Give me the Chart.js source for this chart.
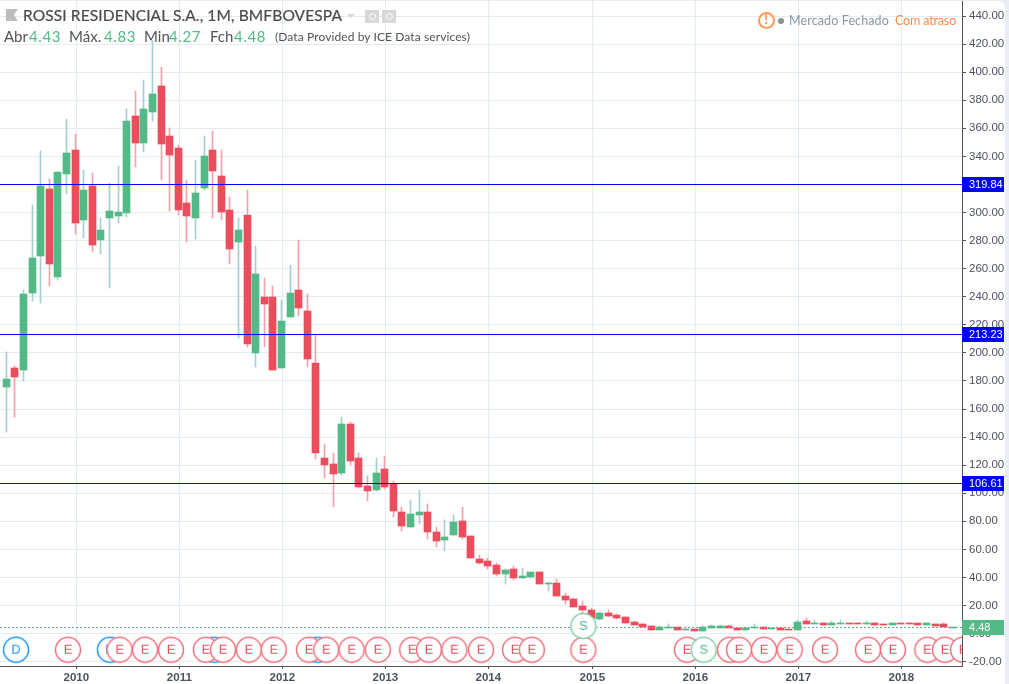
<!DOCTYPE html>
<html>
<head>
<meta charset="utf-8">
<title>ROSSI RESIDENCIAL S.A.</title>
<script src="https://cdn.jsdelivr.net/npm/chart.js@4/dist/chart.umd.min.js"></script>
<style>
  html, body { margin: 0; padding: 0; background: #e9ecf1; overflow: hidden; }
  #panel { position: absolute; left: 0; top: 1px; width: 1005px; height: 683px; background: #fff; border-top-right-radius: 6px; overflow: hidden; }
  #chart { position: absolute; left: 0; top: 0; }
  .txt { position: absolute; white-space: nowrap; font-family: Lato, sans-serif; }
  .title { font-size: 15.5px; color: #4a4a4a; letter-spacing: 0.12px; -webkit-text-stroke: 0.2px #4a4a4a; }
  .leg { font-size: 15px; color: #535353; top: 26px; }
  .val { font-size: 15px; color: #53b987; top: 26px; letter-spacing: 0.6px; }
  .note { font-size: 12px; color: #535353; letter-spacing: 0.1px; top: 28px; }
  .status { font-size: 12.5px; letter-spacing: 0.12px; top: 12px; }
  .ico { position: absolute; background: #d6d8da; }
  .hole { position: absolute; width: 5px; height: 5px; border: 1px solid #fff; border-radius: 50%; }
</style>
</head>
<body>
<div id="panel">
  <canvas id="chart" width="1005" height="683"></canvas>

  <div class="ico" style="left:6px;top:8px;width:12px;height:12px;clip-path:polygon(0 0,100% 0,65% 50%,100% 100%,0 100%);background:#bdbdbd"></div>
  <div class="txt title" style="left:23px;top:5px">ROSSI RESIDENCIAL S.A., 1M, BMFBOVESPA</div>
  <div class="ico" style="left:347px;top:13px;width:8px;height:4px;clip-path:polygon(0 0,100% 0,50% 100%)"></div>
  <div class="ico" style="left:365px;top:9px;width:14px;height:13px"><div class="hole" style="left:3.5px;top:3px"></div></div>
  <div class="ico" style="left:382px;top:9px;width:14px;height:13px"><div class="hole" style="left:3.5px;top:3px"></div></div>

  <div class="txt leg" style="left:4px">Abr</div><div class="txt val" style="left:29px">4.43</div>
  <div class="txt leg" style="left:69px">Máx.</div><div class="txt val" style="left:104px">4.83</div>
  <div class="txt leg" style="left:144px">Min</div><div class="txt val" style="left:169px">4.27</div>
  <div class="txt leg" style="left:210px">Fch</div><div class="txt val" style="left:234px">4.48</div>
  <div class="txt note" style="left:275px">(Data Provided by ICE Data services)</div>

  <div style="position:absolute;left:757.5px;top:10.5px;width:13px;height:13px;border:2px solid #ff9a5c;border-radius:50%"></div>
  <div class="txt" style="left:757.5px;top:10px;width:17px;text-align:center;font-size:13px;line-height:17px;color:#ff8a4c;font-weight:700">!</div>
  <div style="position:absolute;left:778px;top:17px;width:6px;height:6px;background:#8a8f96;border-radius:50%"></div>
  <div class="txt status" style="left:789px;color:#8b97a1">Mercado Fechado</div>
  <div class="txt status" style="left:895px;color:#ff8a4c;letter-spacing:-0.15px">Com atraso</div>
</div>

<script>
const yearLabels = ['2010', '2011', '2012', '2013', '2014', '2015', '2016', '2017', '2018'];
const yearMonthIndex = [8.14, 20.12, 32.09, 44.07, 56.05, 68.14, 80.12, 92.09, 104.07];
const priceTicks = [440, 420, 400, 380, 360, 340, 320, 300, 280, 260, 240, 220, 200, 180, 160, 140, 120, 100, 80, 60, 40, 20, 0, -20];

// monthly candles, May 2009 to Jul 2018
const opens = [
  175.7, 189.5, 187.8, 242.7, 269, 316.8, 254, 327.5, 344.6, 294.7, 318.9, 280.4, 296.1, 297.5, 299.7, 368.8,
  349.5, 371.6, 390.1, 354.5, 346, 306.8, 296, 317.4, 344.5, 326, 301.8, 279, 298.2, 199.9, 239.8, 239.8,
  189.2, 225.5, 244.8, 229.8, 192.8, 125.1, 120.8, 114.4, 149.3, 125.1, 105.1, 102.3, 117.3, 106.6, 86.6, 75.9,
  84.5, 86.6, 72.4, 66.7, 70.2, 80.2, 69.5, 53.1, 51.7, 48.9, 42.4, 46, 39.6, 40.3, 43.9, 35.3,
  36, 26.8, 24.6, 19.6, 16.8, 10.4, 14.7, 13.2, 11.8, 8.3, 6.8, 5.4, 2.6, 4, 4.7, 2.6,
  3.3, 1.85, 4, 4, 5.4, 4, 2.6, 4, 4.7, 3.3, 4, 3.3, 2.6, 9, 6.8, 7.5,
  6.1, 6.8, 7.5, 7.5, 6.8, 7.5, 6.8, 6.1, 7.5, 7.5, 7.5, 6.1, 6.8, 6.8, 4.43
];
const closes = [
  181.4, 182.8, 241.9, 267.6, 318.9, 263.3, 328.9, 342.4, 292.5, 316, 276.9, 287.6, 301.1, 300.4, 365.2, 349.5,
  373.8, 384.4, 348.8, 341, 301.8, 297.5, 313.9, 340.2, 329.6, 300.3, 274, 287.5, 206.3, 256.2, 234.8, 187.8,
  222.7, 242.6, 232, 195.6, 128.6, 120.1, 113.7, 149.3, 122.9, 104.4, 101.6, 114.4, 104.4, 87.3, 76.6, 85.2,
  86.6, 72.4, 65.9, 68.8, 79.5, 68.8, 53.9, 50.3, 48.1, 42.4, 45.3, 39.6, 41, 43.9, 35.3, 36,
  26.8, 23.9, 18.9, 16.8, 11.1, 14.7, 12.5, 11.1, 7.5, 6.1, 4.7, 2.6, 4.7, 4.7, 2.6, 3.3,
  1.85, 4.7, 5.4, 5.4, 4, 2.6, 4, 4.7, 3.3, 4, 2.6, 2.6, 8.3, 6.8, 7.5, 6.1,
  7.5, 7.5, 6.8, 6.8, 7.5, 6.1, 6.1, 7.5, 6.8, 6.8, 6.1, 7.5, 5.4, 4.7, 4.48
];
const highs = [
  200.6, 190.6, 244.8, 305.4, 343.8, 323.9, 328.9, 366.6, 356, 330.3, 328.2, 296.1, 321, 333.2, 373.8, 386.6,
  394.4, 422, 403.7, 360.2, 348.1, 323.2, 337.4, 354.5, 358.1, 344.5, 311, 296, 316, 276.1, 253.3, 247.6,
  237.7, 262.6, 280.4, 241.9, 213.4, 135, 128.7, 154.3, 150.7, 128.7, 112.3, 125.1, 126.5, 108.7, 90.2, 95.2,
  102.3, 92.3, 75.9, 80.9, 84.5, 90.2, 69.5, 56, 53.9, 50.3, 46, 48.1, 46.7, 43.9, 43.9, 36.7,
  38.9, 28.9, 25.3, 23.2, 18.2, 15.4, 16.8, 13.9, 12.1, 9, 7, 5.6, 5.4, 6.8, 5, 3.6,
  3.6, 5.4, 5.8, 6, 5.8, 4.3, 4.3, 6.8, 5, 4.3, 4.3, 3.6, 9.7, 11.1, 9.7, 7.8,
  9, 9.7, 7.8, 7.8, 9, 7.8, 7, 7.8, 7.8, 7.8, 7.5, 7.8, 7, 7.2, 4.83
];
const lows = [
  143.6, 154.3, 180, 237, 235.5, 247.6, 251.9, 313.2, 284.7, 281.9, 271.9, 270.4, 246.2, 292.5, 296.8, 332.4,
  343.1, 365.2, 323.2, 301.1, 298.2, 279, 281.1, 316, 296.1, 294.7, 263.3, 210.6, 204.2, 189.9, 204.2, 187.8,
  189.2, 225.5, 226.2, 189.9, 124.4, 110.8, 90.2, 113, 120.1, 103.7, 94.5, 101.6, 103, 83.1, 73.1, 75.9,
  78.1, 67.4, 61.7, 58.8, 70.2, 67.4, 53.9, 49.6, 46, 41, 35.3, 38.2, 39.6, 39.6, 35.3, 30.3,
  26.8, 21.1, 18.9, 13.2, 10, 10, 12, 10.4, 7.5, 5.8, 4.5, 2.6, 2.6, 4, 2.6, 2.6,
  1.85, 1.85, 4, 4, 4, 2.6, 2.6, 4, 3.3, 3.3, 2.6, 2.6, 2.6, 6.8, 6.8, 6.1,
  6.1, 6.8, 6.8, 6.8, 6.8, 6.1, 6.1, 6.1, 6.8, 6.8, 6.1, 6.1, 5.4, 4.7, 4.27
];

const levelValues = [319.84, 213.23, 106.61];
const lastClose = 4.48;

// event markers, x is month index on the same axis as the candles
const dividendMonths = [1.13, 12.05, 24.2, 36.2];
const earningsMonths = [7.17, 13.17, 16.13, 19.15, 23.2, 25.2, 28.2, 31.1, 35.2, 37.2, 40.15, 43.2, 47.2, 49.15, 52.1, 55.2,
  59.15, 61.1, 67.1, 79.15, 84.15, 85.2, 88.1, 91.1, 95.2, 100.2, 103.1, 107.1, 109.15, 111.25];
const splitMonths = [67.1, 81.1];
const splitLevels = [5.4, -11.5];
const markerLevel = -11.5;

const monthMin = -0.733;
const monthMax = 111.13;
const priceMin = -23.1;
const priceMax = 450.7;

const GREEN = '#53b987';
const RED = '#eb4d5c';
const GREEN_WICK = '#a6cfcf';
const RED_WICK = '#f5a0aa';
const LEVEL_BLUE = '#0000ff';
const AXIS = '#4c525e';
const GRID = '#e2edf3';

function candleColor(i, up, down) {
  return closes[i] >= opens[i] ? up : down;
}

function markerImage(letter, stroke, text) {
  const c = document.createElement('canvas');
  c.width = 28;
  c.height = 28;
  const g = c.getContext('2d');
  g.beginPath();
  g.arc(14, 14, 12.5, 0, Math.PI * 2);
  g.fillStyle = '#fff';
  g.fill();
  g.lineWidth = 1.5;
  g.strokeStyle = stroke;
  g.stroke();
  g.fillStyle = text;
  g.font = '13px "Liberation Sans"';
  g.textAlign = 'center';
  g.textBaseline = 'middle';
  g.fillText(letter, 14, 14.5);
  return c;
}

function markerDataset(months, levels, image, order) {
  return {
    type: 'scatter',
    data: months.map((m, i) => ({ x: m, y: levels ? levels[i] : markerLevel })),
    pointStyle: image,
    pointRadius: 13,
    order: order,
    clip: 0
  };
}

function levelDataset(value, color, dash, order) {
  return {
    type: 'line',
    data: [{ x: monthMin, y: value }, { x: monthMax, y: value }],
    borderColor: color,
    borderWidth: 1,
    borderDash: dash,
    pointRadius: 0,
    order: order
  };
}

// snap bars and level lines to whole pixels, the original is drawn that way
const pixelSnap = {
  id: 'pixelSnap',
  afterDatasetsUpdate(chart) {
    chart.getSortedVisibleDatasetMetas().forEach(meta => {
      if (meta.type === 'bar') {
        meta.data.forEach(bar => {
          bar.x = Math.floor(bar.x) + 0.5;
          bar.y = Math.round(bar.y);
          bar.base = Math.round(bar.base);
          if (bar.y === bar.base) bar.base += 1;
        });
      } else if (meta.type === 'line') {
        meta.data.forEach(p => { p.y = Math.floor(p.y) + 0.5; });
      }
    });
  }
};

const priceTags = {
  id: 'priceTags',
  afterDraw(chart) {
    const ctx = chart.ctx;
    const y = chart.scales.y;
    const left = chart.chartArea.right;
    const tags = levelValues.map(v => [v, LEVEL_BLUE]);
    tags.push([lastClose, GREEN]);
    ctx.save();
    ctx.font = '11px "Liberation Sans"';
    ctx.textAlign = 'left';
    ctx.textBaseline = 'middle';
    tags.forEach(([v, color]) => {
      const py = Math.floor(y.getPixelForValue(v));
      ctx.fillStyle = color;
      ctx.fillRect(left, py - 7, 42, 15);
      ctx.fillStyle = '#fff';
      ctx.fillText(v.toFixed(2), left + 7, py + 1);
    });
    ctx.restore();
  }
};

function noScalePadding(scale) {
  scale.paddingTop = 0;
  scale.paddingBottom = 0;
  scale.paddingLeft = 0;
  scale.paddingRight = 0;
}

const ctx = document.getElementById('chart').getContext('2d');

new Chart(ctx, {
  type: 'bar',
  data: {
    datasets: [
      markerDataset(splitMonths, splitLevels, markerImage('S', '#86d0a8', GREEN), 1),
      markerDataset(earningsMonths, null, markerImage('E', '#f0727e', RED), 2),
      markerDataset(dividendMonths, null, markerImage('D', '#2196f3', '#2196f3'), 3),
      levelDataset(levelValues[0], LEVEL_BLUE, [], 4),
      levelDataset(levelValues[1], LEVEL_BLUE, [], 4),
      levelDataset(levelValues[2], LEVEL_BLUE, [], 4),
      levelDataset(lastClose, GREEN, [2, 2], 4),
      {
        data: opens.map((o, i) => ({ x: i, y: [o, closes[i]] })),
        backgroundColor: opens.map((o, i) => candleColor(i, GREEN, RED)),
        barThickness: 7,
        grouped: false,
        order: 5
      },
      {
        data: lows.map((l, i) => ({ x: i, y: [l, highs[i]] })),
        backgroundColor: lows.map((l, i) => candleColor(i, GREEN_WICK, RED_WICK)),
        barThickness: 1,
        grouped: false,
        order: 6
      }
    ]
  },
  options: {
    responsive: false,
    animation: false,
    events: [],
    layout: { padding: 0, autoPadding: false },
    plugins: { legend: { display: false }, tooltip: { enabled: false } },
    scales: {
      x: {
        type: 'linear',
        min: monthMin,
        max: monthMax,
        offset: false,
        afterBuildTicks(scale) { scale.ticks = yearMonthIndex.map(v => ({ value: v })); },
        afterFit(scale) { scale.height = 683 - 665; noScalePadding(scale); },
        border: { color: AXIS, width: 1 },
        grid: { color: GRID, offset: false, tickColor: AXIS, tickLength: 3 },
        ticks: {
          autoSkip: false,
          maxRotation: 0,
          color: AXIS,
          padding: 2,
          font: { family: '"Liberation Sans"', size: 11.5, weight: 'bold' },
          callback: v => yearLabels[yearMonthIndex.indexOf(v)]
        }
      },
      y: {
        type: 'linear',
        position: 'right',
        min: priceMin,
        max: priceMax,
        afterBuildTicks(scale) { scale.ticks = priceTicks.map(v => ({ value: v })); },
        afterFit(scale) { scale.width = 1005 - 962; noScalePadding(scale); },
        border: { color: AXIS, width: 1 },
        grid: { color: GRID, tickColor: AXIS, tickLength: 4 },
        ticks: {
          color: AXIS,
          padding: 3,
          font: { family: '"Liberation Sans"', size: 11.5 },
          callback: v => v.toFixed(2)
        }
      }
    }
  },
  plugins: [pixelSnap, priceTags]
});
</script>
</body>
</html>
